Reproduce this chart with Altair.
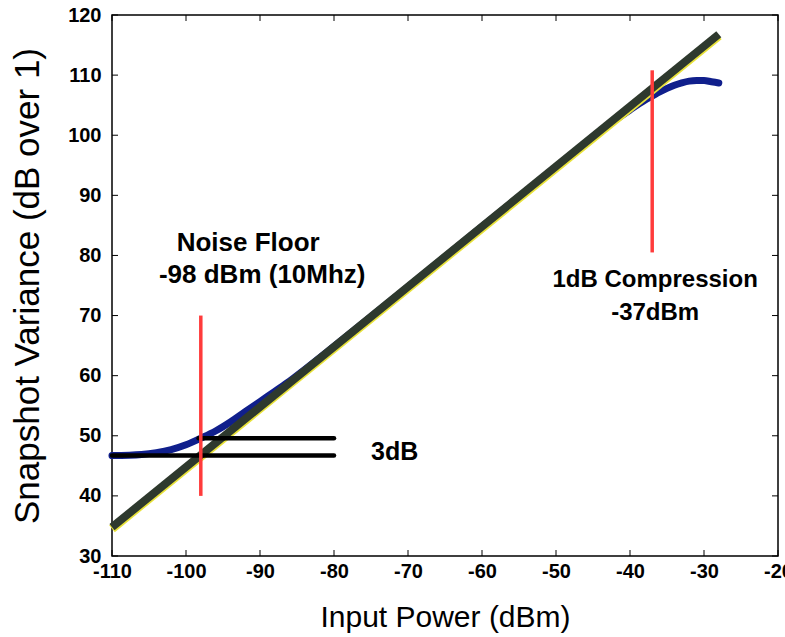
import altair as alt
import pandas as pd

# Measured snapshot variance versus input power
power_dbm = [-110, -106, -104, -102, -100, -98, -96, -94, -92, -90, -88, -86, -84,
             -80, -70, -60, -50, -45, -42, -40, -38, -37, -36, -35, -34, -33,
             -32, -31, -30, -29, -28]
variance_db = [46.7, 46.9, 47.2, 47.7, 48.5, 49.6, 50.8, 52.3, 54.0, 55.7, 57.4, 59.1, 61.0,
               64.9, 74.8, 84.8, 94.7, 99.6, 102.5, 104.2, 105.8, 106.5, 107.2, 107.8,
               108.3, 108.7, 109.0, 109.1, 109.1, 108.9, 108.7]

# Ideal linear response
ideal_power = [-110, -28]
ideal_variance = [34.8, 116.8]

# 3 dB reference levels
ref_start = [-110, -98.3]
ref_end = [-80, -80]
ref_level = [46.7, 49.6]

# Vertical markers: noise floor and 1 dB compression point
marker_power = [-98, -37]
marker_low = [40, 80.5]
marker_high = [70, 110.8]

# Annotations
center_text = ["Noise Floor", "-98 dBm (10Mhz)", "1dB Compression", "-37dBm"]
center_x = [-91.6, -89.7, -36.6, -36.6]
center_y = [82.1, 76.7, 75.9, 70.4]
center_size = [26, 26, 24, 24]
left_text = ["3dB"]
left_x = [-75.0]
left_y = [47.3]

x_ticks = [-110, -100, -90, -80, -70, -60, -50, -40, -30, -20]
y_ticks = [30, 40, 50, 60, 70, 80, 90, 100, 110, 120]

W, H = 666, 541
TICK = 6
FONT = "Liberation Sans"

xscale = alt.Scale(domain=[-110, -20], nice=False, zero=False)
yscale = alt.Scale(domain=[30, 120], nice=False, zero=False)

xaxis = alt.Axis(values=x_ticks, title="Input Power (dBm)", labelExpr="'' + datum.value",
                 labelPadding=5, titlePadding=21, titleFontSize=30)
yaxis = alt.Axis(values=y_ticks, title="Snapshot Variance (dB over 1)",
                 labelExpr="'' + datum.value", labelPadding=11, titlePadding=22,
                 titleFontSize=35)


def X(field="x"):
    return alt.X(f"{field}:Q", scale=xscale, axis=xaxis)


def Y(field="y"):
    return alt.Y(f"{field}:Q", scale=yscale, axis=yaxis)


measured = pd.DataFrame({"x": power_dbm, "y": variance_db})
ideal = pd.DataFrame({"x": ideal_power, "y": ideal_variance})
refs = pd.DataFrame({"x": ref_start, "x2": ref_end, "y": ref_level})
markers = pd.DataFrame({"x": marker_power, "y": marker_low, "y2": marker_high})
centered = pd.DataFrame({"x": center_x, "y": center_y, "t": center_text, "s": center_size})
lefted = pd.DataFrame({"x": left_x, "y": left_y, "t": left_text})
xt = pd.DataFrame({"x": x_ticks})
yt = pd.DataFrame({"y": y_ticks})

blue = alt.Chart(measured).mark_line(color="#101f8c", strokeWidth=7, strokeCap="round",
                                     interpolate="monotone").encode(x=X(), y=Y())
ideal_edge = alt.Chart(ideal).mark_line(color="#e8e23a", strokeWidth=9, yOffset=1.5).encode(
    x=X(), y=Y())
ideal_line = alt.Chart(ideal).mark_line(color="#2e392e", strokeWidth=8).encode(x=X(), y=Y())
ref_lines = alt.Chart(refs).mark_rule(color="black", strokeWidth=4.5, strokeCap="round").encode(
    x=X(), x2="x2:Q", y=Y())
marker_lines = alt.Chart(markers).mark_rule(color="#ff3b3b", strokeWidth=3.5).encode(
    x=X(), y=Y(), y2="y2:Q")

text_c = alt.Chart(centered).mark_text(font=FONT, fontWeight="bold", color="black",
                                       align="center", baseline="middle").encode(
    x=X(), y=Y(), text="t:N", size=alt.Size("s:Q", scale=None, legend=None))
text_l = alt.Chart(lefted).mark_text(font=FONT, fontSize=25, fontWeight="bold",
                                     color="black", align="left",
                                     baseline="middle").encode(x=X(), y=Y(), text="t:N")

# Inward-pointing tick marks on all four sides of the box
tick_bottom = alt.Chart(xt).mark_rule(color="black", strokeWidth=1).encode(
    x=X(), y=alt.value(H), y2=alt.value(H - TICK))
tick_top = alt.Chart(xt).mark_rule(color="black", strokeWidth=1).encode(
    x=X(), y=alt.value(0), y2=alt.value(TICK))
tick_left = alt.Chart(yt).mark_rule(color="black", strokeWidth=1).encode(
    y=Y(), x=alt.value(0), x2=alt.value(TICK))
tick_right = alt.Chart(yt).mark_rule(color="black", strokeWidth=1).encode(
    y=Y(), x=alt.value(W), x2=alt.value(W - TICK))

chart = alt.layer(
    tick_bottom, tick_top, tick_left, tick_right,
    blue, ideal_edge, ideal_line, ref_lines, marker_lines, text_c, text_l,
).properties(
    width=W, height=H,
    autosize=alt.AutoSizeParams(type="none"),
    padding={"left": 112, "top": 15, "right": 7, "bottom": 81},
    background="white",
).configure_view(
    stroke="black", strokeWidth=1.5
).configure_axis(
    grid=False, ticks=False, tickSize=0, domain=False, labelFlush=False,
    labelFont=FONT, labelFontWeight="bold", labelFontSize=20, labelColor="black",
    titleFont=FONT, titleFontWeight="normal", titleColor="black",
)

chart.save("out.html", embed_options={"renderer": "svg", "actions": False})
